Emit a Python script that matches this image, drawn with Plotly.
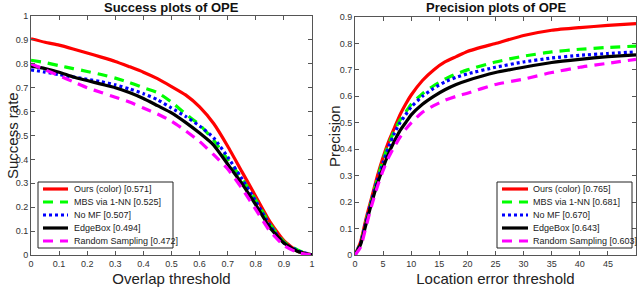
import plotly.graph_objects as go

# ---- Success plot data (overlap threshold) ----
overlap = [0, 0.05, 0.1, 0.15, 0.2, 0.25, 0.3, 0.35, 0.4, 0.45, 0.5, 0.55, 0.6, 0.65, 0.7, 0.75, 0.8, 0.85, 0.9, 0.95, 1.0]
succ_ours = [0.905, 0.89, 0.878, 0.862, 0.845, 0.828, 0.81, 0.788, 0.765, 0.738, 0.705, 0.67, 0.62, 0.55, 0.455, 0.35, 0.245, 0.14, 0.06, 0.015, 0.0]
succ_mbs = [0.815, 0.805, 0.792, 0.78, 0.768, 0.755, 0.74, 0.722, 0.70, 0.68, 0.64, 0.59, 0.545, 0.48, 0.40, 0.32, 0.23, 0.13, 0.055, 0.02, 0.0]
succ_nomf = [0.775, 0.765, 0.755, 0.745, 0.735, 0.725, 0.712, 0.695, 0.675, 0.65, 0.615, 0.58, 0.54, 0.49, 0.41, 0.32, 0.225, 0.125, 0.05, 0.018, 0.0]
succ_edge = [0.79, 0.78, 0.765, 0.745, 0.73, 0.715, 0.70, 0.68, 0.655, 0.625, 0.595, 0.555, 0.51, 0.46, 0.38, 0.30, 0.21, 0.115, 0.05, 0.015, 0.0]
succ_rand = [0.80, 0.775, 0.75, 0.725, 0.70, 0.68, 0.66, 0.64, 0.615, 0.59, 0.56, 0.52, 0.475, 0.42, 0.36, 0.28, 0.19, 0.10, 0.04, 0.01, 0.0]

# ---- Precision plot data (location error threshold) ----
loc_err = [0, 1, 2, 3, 4, 5, 6, 7, 8, 9, 10, 12, 14, 16, 18, 20, 25, 30, 35, 40, 45, 50]
prec_ours = [0.0, 0.05, 0.14, 0.22, 0.30, 0.37, 0.43, 0.48, 0.53, 0.57, 0.605, 0.66, 0.70, 0.73, 0.75, 0.77, 0.80, 0.83, 0.85, 0.86, 0.868, 0.875]
prec_mbs = [0.0, 0.045, 0.13, 0.21, 0.29, 0.36, 0.42, 0.47, 0.51, 0.54, 0.57, 0.61, 0.64, 0.665, 0.685, 0.70, 0.73, 0.752, 0.768, 0.778, 0.785, 0.79]
prec_nomf = [0.0, 0.045, 0.13, 0.21, 0.285, 0.35, 0.41, 0.46, 0.50, 0.53, 0.56, 0.60, 0.63, 0.655, 0.672, 0.685, 0.71, 0.73, 0.745, 0.755, 0.762, 0.768]
prec_edge = [0.0, 0.04, 0.12, 0.20, 0.27, 0.33, 0.385, 0.43, 0.47, 0.50, 0.53, 0.57, 0.60, 0.625, 0.645, 0.66, 0.69, 0.71, 0.728, 0.74, 0.75, 0.757]
prec_rand = [0.0, 0.03, 0.11, 0.19, 0.26, 0.32, 0.37, 0.41, 0.445, 0.475, 0.50, 0.54, 0.565, 0.585, 0.60, 0.612, 0.645, 0.665, 0.69, 0.71, 0.725, 0.74]

succ_labels = ["Ours (color) [0.571]", "MBS via 1-NN [0.525]", "No MF [0.507]", "EdgeBox [0.494]", "Random Sampling [0.472]"]
prec_labels = ["Ours (color) [0.765]", "MBS via 1-NN [0.681]", "No MF [0.670]", "EdgeBox [0.643]", "Random Sampling [0.603]"]

colors = ["#ff0000", "#00ff00", "#0000ff", "#000000", "#ff00ff"]
dashes = ["solid", "10px,7px", "3px,3px", "solid", "10px,7px"]

W, H = 640, 290
ML, MR, MT, MB = 31, 4, 16, 35
PW, PH = W - ML - MR, H - MT - MB


def px2x(px):
    return (px - ML) / PW


def px2y(py):
    return (H - MB - py) / PH


fig = go.Figure()
succ_series = [succ_ours, succ_mbs, succ_nomf, succ_edge, succ_rand]
prec_series = [prec_ours, prec_mbs, prec_nomf, prec_edge, prec_rand]
for i in range(5):
    fig.add_trace(go.Scatter(x=overlap, y=succ_series[i], mode="lines", name=succ_labels[i],
                             line=dict(color=colors[i], width=3.2, dash=dashes[i], shape="spline", smoothing=0.5),
                             xaxis="x", yaxis="y", showlegend=False))
for i in range(5):
    fig.add_trace(go.Scatter(x=loc_err, y=prec_series[i], mode="lines", name=prec_labels[i],
                             line=dict(color=colors[i], width=3.2, dash=dashes[i], shape="spline", smoothing=0.5),
                             xaxis="x2", yaxis="y2", showlegend=False))

axis_common = dict(showline=True, linecolor="#555", linewidth=1, mirror="allticks", ticks="inside",
                   ticklen=4, tickcolor="#555", showgrid=False, zeroline=False, automargin=False,
                   tickfont=dict(family="Liberation Sans, Arial", size=9, color="#333"))
title_font = dict(family="Liberation Sans, Arial", size=15, color="#222")

# ---- manual compact legends (MATLAB style) ----
shapes = []
annotations = []
legend_specs = [
    (38, 173, 43, 68, 72, succ_labels),
    (497, 632, 502, 528, 531, prec_labels),
]
row_y = [189, 202, 215, 228, 241]
for (bx0, bx1, lx0, lx1, tx, labels) in legend_specs:
    shapes.append(dict(type="rect", xref="paper", yref="paper",
                       x0=px2x(bx0), x1=px2x(bx1), y0=px2y(248), y1=px2y(182),
                       line=dict(color="#222", width=1), fillcolor="white", layer="above"))
    for i, lab in enumerate(labels):
        yy = px2y(row_y[i])
        shapes.append(dict(type="line", xref="paper", yref="paper",
                           x0=px2x(lx0), x1=px2x(lx1), y0=yy, y1=yy, layer="above",
                           line=dict(color=colors[i], width=3.2, dash=dashes[i])))
        annotations.append(dict(text=lab, x=px2x(tx), y=yy, xref="paper", yref="paper",
                                xanchor="left", yanchor="middle", showarrow=False,
                                font=dict(family="Liberation Sans, Arial", size=9, color="#222")))

annotations += [
    dict(text="<b>Success plots of OPE</b>", x=px2x(171), y=px2y(8), xref="paper", yref="paper",
         xanchor="center", yanchor="middle", showarrow=False,
         font=dict(family="Liberation Sans, Arial", size=13, color="#111")),
    dict(text="<b>Precision plots of OPE</b>", x=px2x(496), y=px2y(8), xref="paper", yref="paper",
         xanchor="center", yanchor="middle", showarrow=False,
         font=dict(family="Liberation Sans, Arial", size=13, color="#111")),
    dict(text="Success rate", x=px2x(12), y=px2y(136), xref="paper", yref="paper", textangle=-90,
         xanchor="center", yanchor="middle", showarrow=False, font=title_font),
    dict(text="Precision", x=px2x(334), y=px2y(136), xref="paper", yref="paper", textangle=-90,
         xanchor="center", yanchor="middle", showarrow=False, font=title_font),
]

fig.update_layout(
    width=W, height=H,
    margin=dict(l=ML, r=MR, t=MT, b=MB, autoexpand=False),
    paper_bgcolor="white", plot_bgcolor="white",
    xaxis=dict(domain=[0, px2x(312)], range=[0, 1], tickvals=[0, 0.1, 0.2, 0.3, 0.4, 0.5, 0.6, 0.7, 0.8, 0.9, 1],
               ticktext=["0", "0.1", "0.2", "0.3", "0.4", "0.5", "0.6", "0.7", "0.8", "0.9", "1"],
               title=dict(text="Overlap threshold", font=title_font, standoff=5), anchor="y", **axis_common),
    yaxis=dict(domain=[0, 1], range=[0, 1], tickvals=[0, 0.1, 0.2, 0.3, 0.4, 0.5, 0.6, 0.7, 0.8, 0.9, 1],
               ticktext=["0", "0.1", "0.2", "0.3", "0.4", "0.5", "0.6", "0.7", "0.8", "0.9", "1"],
               anchor="x", **axis_common),
    xaxis2=dict(domain=[px2x(355), 1], range=[0, 50], tickvals=[0, 5, 10, 15, 20, 25, 30, 35, 40, 45, 50],
                title=dict(text="Location error threshold", font=title_font, standoff=5), anchor="y2", **axis_common),
    yaxis2=dict(domain=[0, px2y(17)], range=[0, 0.9], tickvals=[0, 0.1, 0.2, 0.3, 0.4, 0.5, 0.6, 0.7, 0.8, 0.9],
                ticktext=["0", "0.1", "0.2", "0.3", "0.4", "0.5", "0.6", "0.7", "0.8", "0.9"],
                anchor="x2", **axis_common),
    shapes=shapes,
    annotations=annotations,
    showlegend=False,
)

fig.write_html("out.html", config={"displayModeBar": False, "staticPlot": True},
               post_script="document.body.style.margin='0';document.body.style.overflow='hidden';")
